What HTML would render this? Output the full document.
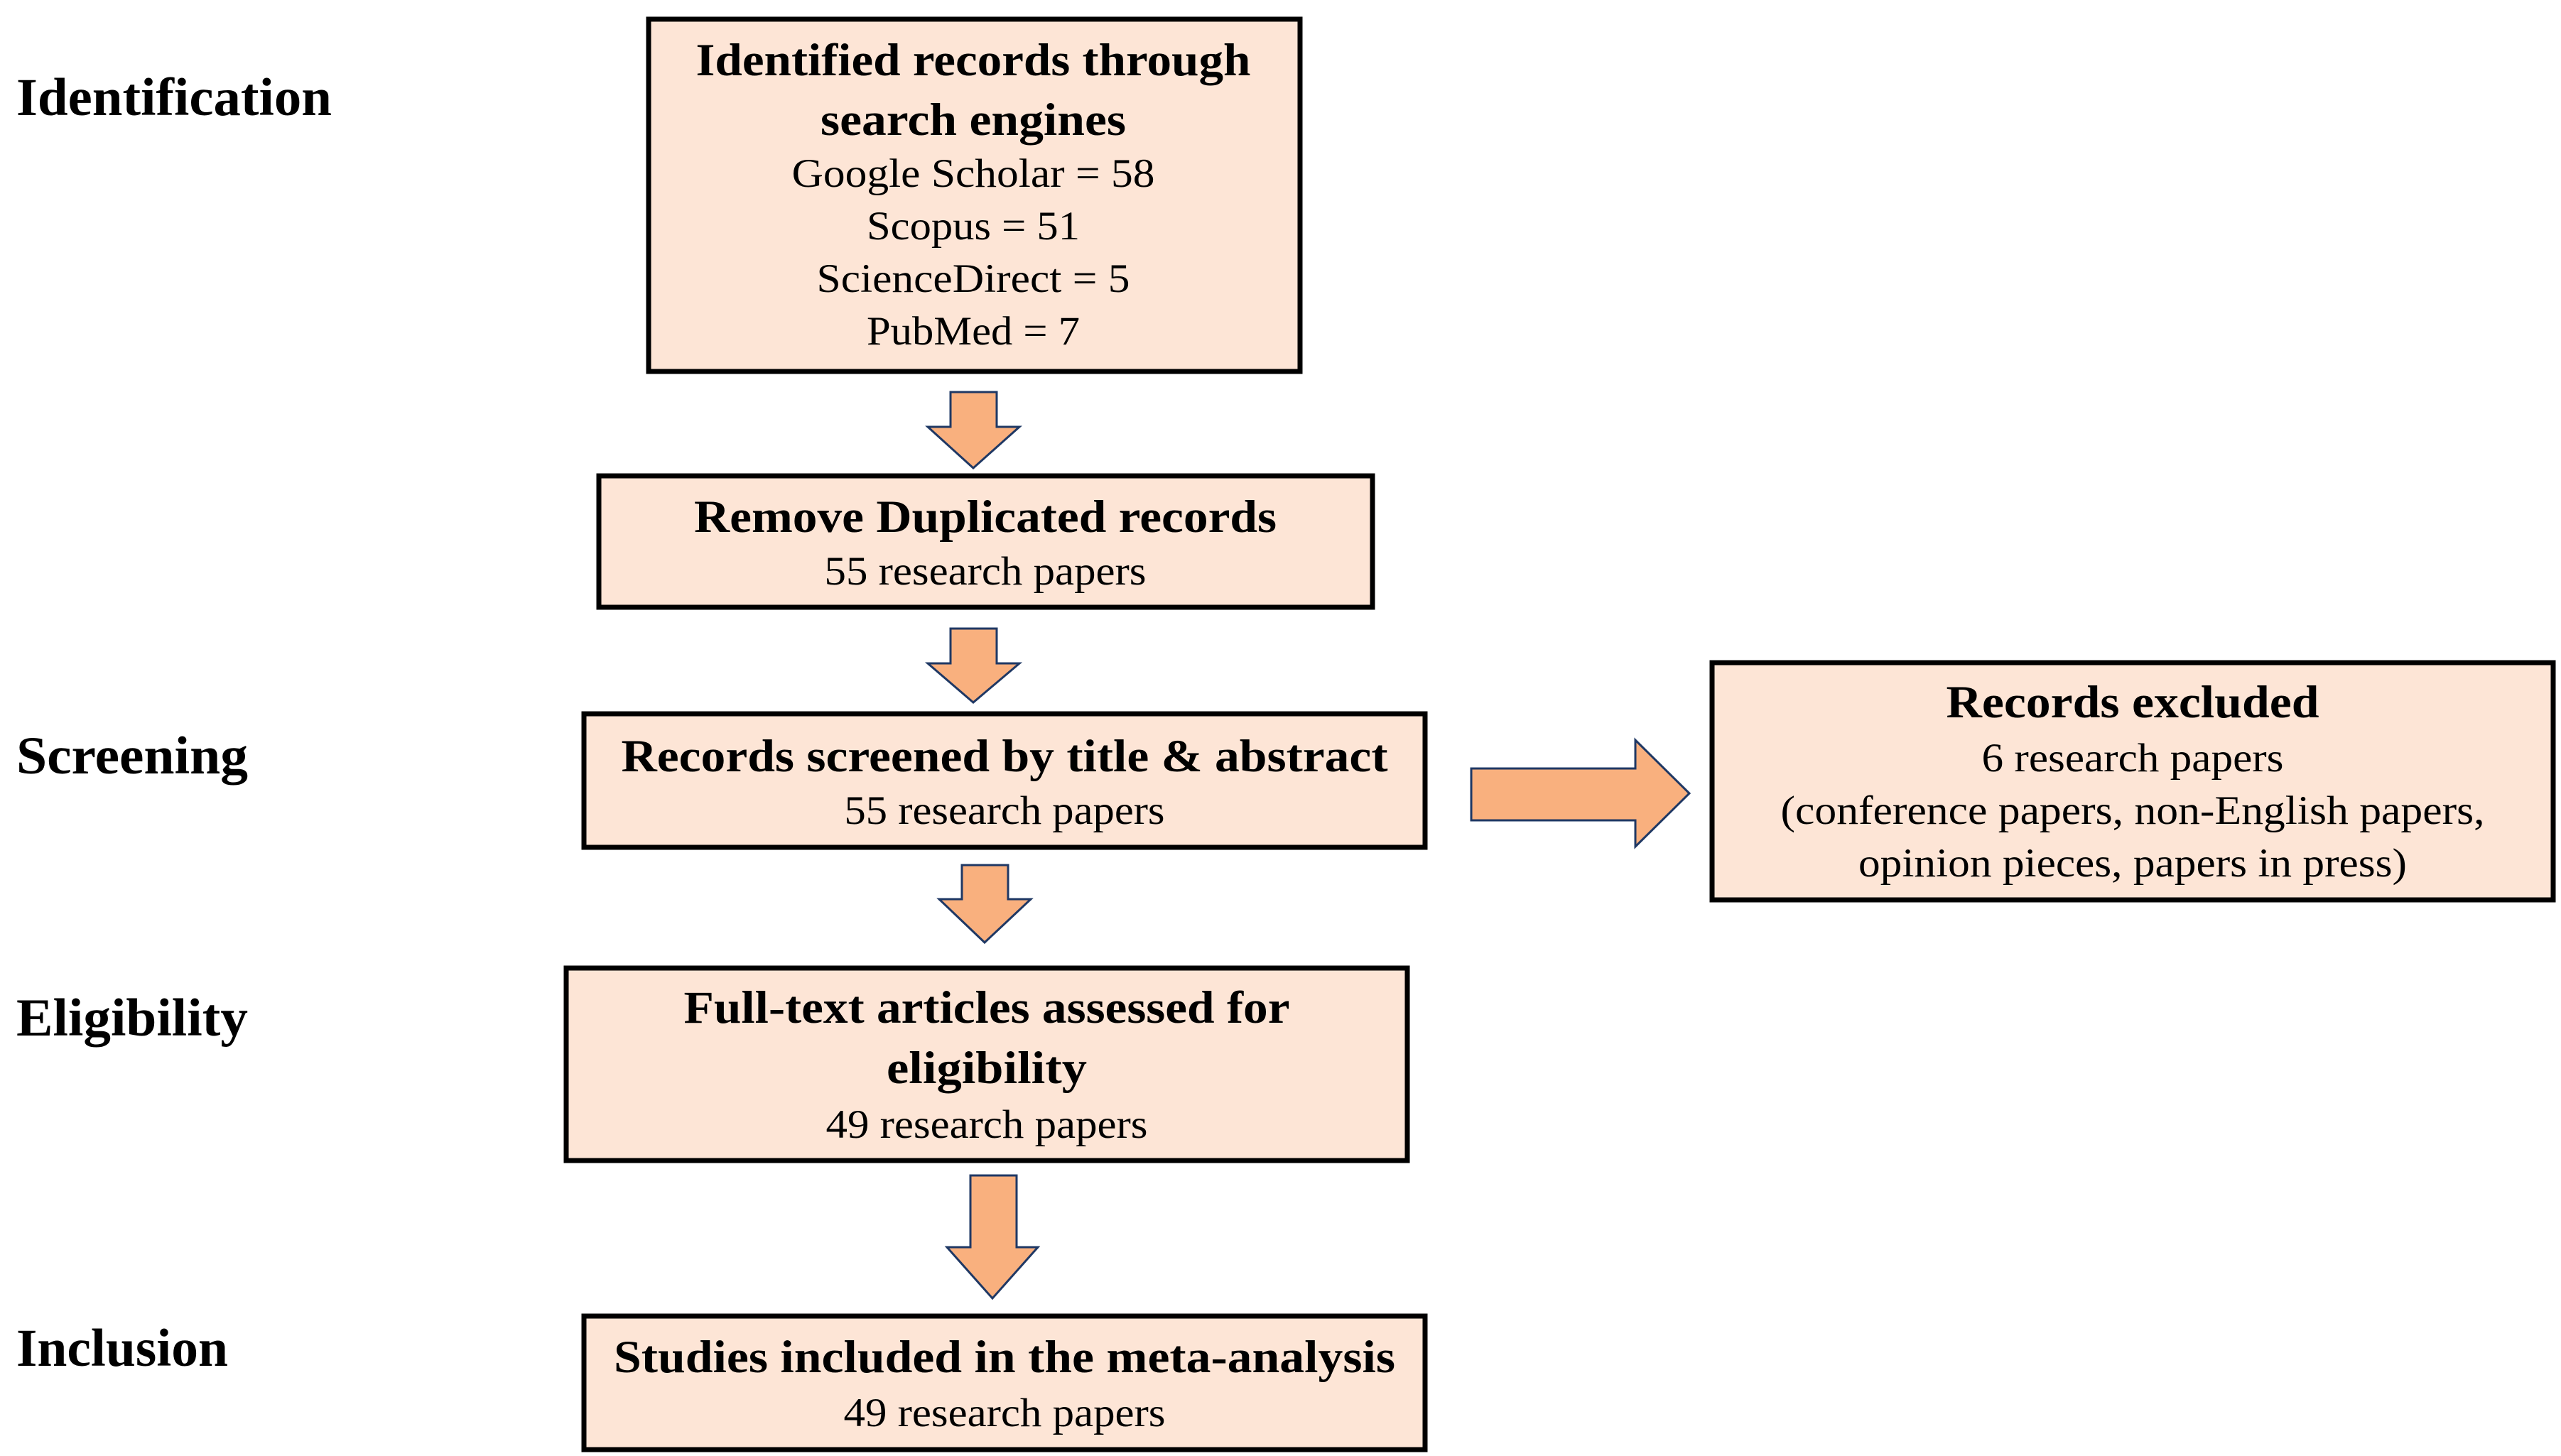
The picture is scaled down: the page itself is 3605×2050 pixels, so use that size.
<!DOCTYPE html>
<html><head><meta charset="utf-8"><style>
html,body{margin:0;padding:0;background:#fff;}
svg{display:block;}
text{font-family:"Liberation Serif",serif;fill:#000;}
.b{font-weight:bold;font-size:65px;}
.r{font-size:57px;}
.l{font-weight:bold;font-size:75px;}
</style></head><body>
<svg width="3605" height="2050" viewBox="0 0 3605 2050" xmlns="http://www.w3.org/2000/svg">
<g fill="#fde5d6" stroke="#000" stroke-width="7">
<rect x="913" y="27" width="917" height="496"/>
<rect x="843" y="670" width="1089" height="185"/>
<rect x="822" y="1005" width="1184" height="188"/>
<rect x="2410" y="933" width="1184" height="334"/>
<rect x="797" y="1363" width="1184" height="271"/>
<rect x="822" y="1853" width="1184" height="188"/>
</g>
<g fill="#f9b07e" stroke="#1f3864" stroke-width="3">
<polygon points="1338,552 1403,552 1403,601 1435,601 1370,659 1306,601 1338,601"/>
<polygon points="1338,885 1403,885 1403,934 1435,934 1370,989 1306,934 1338,934"/>
<polygon points="1354,1218 1419,1218 1419,1266 1451,1266 1386,1327 1322,1266 1354,1266"/>
<polygon points="1366,1655 1431,1655 1431,1756 1461,1756 1397,1828 1333,1756 1366,1756"/>
<polygon points="2071,1082 2302,1082 2302,1042 2378,1117 2302,1192 2302,1155 2071,1155"/>
</g>
<g text-anchor="start">
<text class="l" x="23" y="162" textLength="444" lengthAdjust="spacingAndGlyphs">Identification</text>
<text class="l" x="23" y="1089" textLength="326" lengthAdjust="spacingAndGlyphs">Screening</text>
<text class="l" x="23" y="1458" textLength="326" lengthAdjust="spacingAndGlyphs">Eligibility</text>
<text class="l" x="23" y="1923" textLength="298" lengthAdjust="spacingAndGlyphs">Inclusion</text>
</g>
<g text-anchor="middle">
<text class="b" x="1370" y="106" textLength="781" lengthAdjust="spacingAndGlyphs">Identified records through</text>
<text class="b" x="1370" y="190" textLength="430" lengthAdjust="spacingAndGlyphs">search engines</text>
<text class="r" x="1370" y="263" textLength="511" lengthAdjust="spacingAndGlyphs">Google Scholar = 58</text>
<text class="r" x="1370" y="337" textLength="300" lengthAdjust="spacingAndGlyphs">Scopus = 51</text>
<text class="r" x="1370" y="411" textLength="441" lengthAdjust="spacingAndGlyphs">ScienceDirect = 5</text>
<text class="r" x="1370" y="485" textLength="300" lengthAdjust="spacingAndGlyphs">PubMed = 7</text>

<text class="b" x="1387" y="749" textLength="820" lengthAdjust="spacingAndGlyphs">Remove Duplicated records</text>
<text class="r" x="1387" y="823" textLength="453" lengthAdjust="spacingAndGlyphs">55 research papers</text>

<text class="b" x="1414" y="1086" textLength="1079" lengthAdjust="spacingAndGlyphs">Records screened by title &amp; abstract</text>
<text class="r" x="1414" y="1160" textLength="451" lengthAdjust="spacingAndGlyphs">55 research papers</text>

<text class="b" x="3002" y="1010" textLength="525" lengthAdjust="spacingAndGlyphs">Records excluded</text>
<text class="r" x="3002" y="1086" textLength="425" lengthAdjust="spacingAndGlyphs">6 research papers</text>
<text class="r" x="3002" y="1160" textLength="991" lengthAdjust="spacingAndGlyphs">(conference papers, non-English papers,</text>
<text class="r" x="3002" y="1234" textLength="772" lengthAdjust="spacingAndGlyphs">opinion pieces, papers in press)</text>

<text class="b" x="1389" y="1440" textLength="853" lengthAdjust="spacingAndGlyphs">Full-text articles assessed for</text>
<text class="b" x="1389" y="1525" textLength="282" lengthAdjust="spacingAndGlyphs">eligibility</text>
<text class="r" x="1389" y="1602" textLength="453" lengthAdjust="spacingAndGlyphs">49 research papers</text>

<text class="b" x="1414" y="1932" textLength="1100" lengthAdjust="spacingAndGlyphs">Studies included in the meta-analysis</text>
<text class="r" x="1414" y="2008" textLength="453" lengthAdjust="spacingAndGlyphs">49 research papers</text>
</g>
</svg>
</body></html>
